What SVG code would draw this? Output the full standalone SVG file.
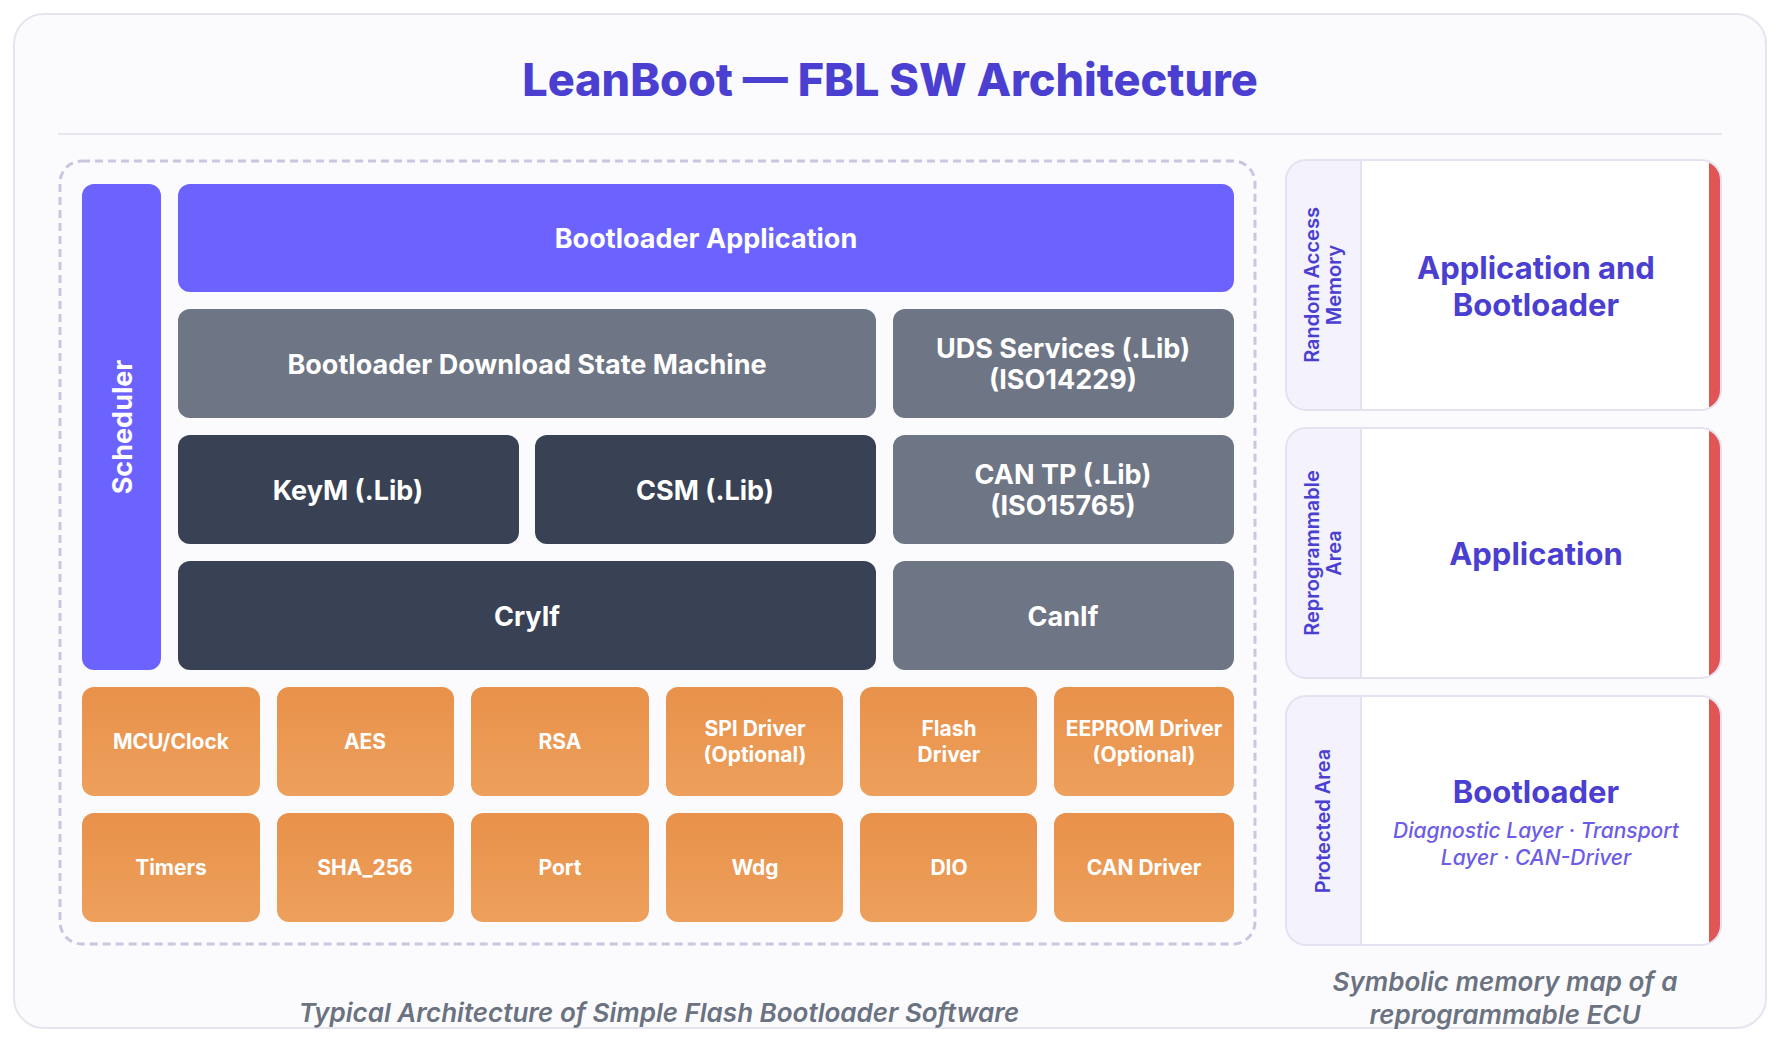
<svg xmlns="http://www.w3.org/2000/svg" width="1780" height="1042" viewBox="0 0 1780 1042">
<defs>
<linearGradient id="og" x1="0" y1="0" x2="0" y2="1"><stop offset="0" stop-color="#e8914a"/><stop offset="1" stop-color="#eda05c"/></linearGradient>
<style>
text{font-family:Inter,"Open Sans","Liberation Sans",sans-serif;text-anchor:middle;dominant-baseline:central}
.w{fill:#fff;font-weight:700;font-size:27px}
.o{fill:#fff;font-weight:700;font-size:21px}
.p{fill:#6c63ff}.s{fill:#6e7585}.d{fill:#394254}.or{fill:url(#og)}
.strip{fill:#f3f2fd}
.lab{fill:#4a3fd0;font-weight:600;font-size:20px}
.big{fill:#4a3fd0;font-weight:700;font-size:31px}
.cap{fill:#6b7280;font-style:italic;font-weight:600;font-size:26px}
</style>
<clipPath id="c1"><rect x="1286" y="160" width="435" height="250" rx="20"/></clipPath>
<clipPath id="c2"><rect x="1286" y="428" width="435" height="250" rx="20"/></clipPath>
<clipPath id="c3"><rect x="1286" y="696" width="435" height="249" rx="20"/></clipPath>
</defs>
<rect x="14" y="14" width="1752" height="1014" rx="30" fill="#fbfbfe" stroke="#e6e5ef" stroke-width="2"/>
<text x="890" y="79" style="font-size:45px;font-weight:800;fill:#4a3fd0">LeanBoot — FBL SW Architecture</text>
<line x1="58" y1="134" x2="1722" y2="134" stroke="#e6e5ef" stroke-width="2"/>
<rect x="60" y="161" width="1195" height="783" rx="22" fill="none" stroke="#c9c7e0" stroke-width="3" stroke-dasharray="8 5"/>
<g id="scheduler"><rect class="p" x="82" y="184" width="79" height="486" rx="12"/><text class="w" transform="translate(122 427) rotate(-90)">Scheduler</text></g>
<g id="app"><rect class="p" x="178" y="184" width="1056" height="108" rx="12"/><text class="w" x="706" y="238">Bootloader Application</text></g>
<g id="bdsm"><rect class="s" x="178" y="309" width="698" height="109" rx="12"/><text class="w" x="527" y="364">Bootloader Download State Machine</text></g>
<g id="uds"><rect class="s" x="893" y="309" width="341" height="109" rx="12"/><text class="w" x="1063" y="348">UDS Services (.Lib)</text><text class="w" x="1063" y="379">(ISO14229)</text></g>
<g id="keym"><rect class="d" x="178" y="435" width="341" height="109" rx="12"/><text class="w" x="348" y="490">KeyM (.Lib)</text></g>
<g id="csm"><rect class="d" x="535" y="435" width="341" height="109" rx="12"/><text class="w" x="705" y="490">CSM (.Lib)</text></g>
<g id="cantp"><rect class="s" x="893" y="435" width="341" height="109" rx="12"/><text class="w" x="1063" y="474">CAN TP (.Lib)</text><text class="w" x="1063" y="505">(ISO15765)</text></g>
<g id="cryif"><rect class="d" x="178" y="561" width="698" height="109" rx="12"/><text class="w" x="527" y="616">CryIf</text></g>
<g id="canif"><rect class="s" x="893" y="561" width="341" height="109" rx="12"/><text class="w" x="1063" y="616">CanIf</text></g>
<g id="mcu"><rect class="or" x="82" y="687" width="178" height="109" rx="12"/><text class="o" x="171" y="741">MCU/Clock</text></g>
<g id="aes"><rect class="or" x="277" y="687" width="177" height="109" rx="12"/><text class="o" x="365" y="741">AES</text></g>
<g id="rsa"><rect class="or" x="471" y="687" width="178" height="109" rx="12"/><text class="o" x="560" y="741">RSA</text></g>
<g id="spi"><rect class="or" x="666" y="687" width="177" height="109" rx="12"/><text class="o" x="755" y="728">SPI Driver</text><text class="o" x="755" y="754">(Optional)</text></g>
<g id="flash"><rect class="or" x="860" y="687" width="177" height="109" rx="12"/><text class="o" x="949" y="728">Flash</text><text class="o" x="949" y="754">Driver</text></g>
<g id="eeprom"><rect class="or" x="1054" y="687" width="180" height="109" rx="12"/><text class="o" x="1144" y="728">EEPROM Driver</text><text class="o" x="1144" y="754">(Optional)</text></g>
<g id="timers"><rect class="or" x="82" y="813" width="178" height="109" rx="12"/><text class="o" x="171" y="867">Timers</text></g>
<g id="sha"><rect class="or" x="277" y="813" width="177" height="109" rx="12"/><text class="o" x="365" y="867">SHA_256</text></g>
<g id="port"><rect class="or" x="471" y="813" width="178" height="109" rx="12"/><text class="o" x="560" y="867">Port</text></g>
<g id="wdg"><rect class="or" x="666" y="813" width="177" height="109" rx="12"/><text class="o" x="755" y="867">Wdg</text></g>
<g id="dio"><rect class="or" x="860" y="813" width="177" height="109" rx="12"/><text class="o" x="949" y="867">DIO</text></g>
<g id="candrv"><rect class="or" x="1054" y="813" width="180" height="109" rx="12"/><text class="o" x="1144" y="867">CAN Driver</text></g>
<text class="cap" x="659" y="1012">Typical Architecture of Simple Flash Bootloader Software</text>
<g id="ram">
<g clip-path="url(#c1)"><rect x="1286" y="160" width="435" height="250" fill="#fff"/><rect class="strip" x="1286" y="160" width="75" height="250"/><rect x="1709" y="160" width="12" height="250" fill="#e05656"/></g>
<line x1="1361" y1="160" x2="1361" y2="410" stroke="#e4e2f0" stroke-width="2"/>
<rect x="1286" y="160" width="435" height="250" rx="20" fill="none" stroke="#e4e2f0" stroke-width="2"/>
<text class="lab" transform="translate(1323 285) rotate(-90)"><tspan x="0" dy="-11">Random Access</tspan><tspan x="0" dy="22">Memory</tspan></text>
<text class="big" x="1536" y="267">Application and</text><text class="big" x="1536" y="304">Bootloader</text>
</g>
<g id="repro">
<g clip-path="url(#c2)"><rect x="1286" y="428" width="435" height="250" fill="#fff"/><rect class="strip" x="1286" y="428" width="75" height="250"/><rect x="1709" y="428" width="12" height="250" fill="#e05656"/></g>
<line x1="1361" y1="428" x2="1361" y2="678" stroke="#e4e2f0" stroke-width="2"/>
<rect x="1286" y="428" width="435" height="250" rx="20" fill="none" stroke="#e4e2f0" stroke-width="2"/>
<text class="lab" transform="translate(1323 553) rotate(-90)"><tspan x="0" dy="-11">Reprogrammable</tspan><tspan x="0" dy="22">Area</tspan></text>
<text class="big" x="1536" y="553">Application</text>
</g>
<g id="prot">
<g clip-path="url(#c3)"><rect x="1286" y="696" width="435" height="249" fill="#fff"/><rect class="strip" x="1286" y="696" width="75" height="249"/><rect x="1709" y="696" width="12" height="249" fill="#e05656"/></g>
<line x1="1361" y1="696" x2="1361" y2="945" stroke="#e4e2f0" stroke-width="2"/>
<rect x="1286" y="696" width="435" height="249" rx="20" fill="none" stroke="#e4e2f0" stroke-width="2"/>
<text class="lab" transform="translate(1323 821) rotate(-90)">Protected Area</text>
<text class="big" x="1536" y="791">Bootloader</text>
<text x="1536" y="830" style="fill:#6c5ce7;font-style:italic;font-weight:500;font-size:21px">Diagnostic Layer · Transport</text>
<text x="1536" y="857" style="fill:#6c5ce7;font-style:italic;font-weight:500;font-size:21px">Layer · CAN-Driver</text>
</g>
<text class="cap" x="1505" y="981">Symbolic memory map of a</text>
<text class="cap" x="1505" y="1014">reprogrammable ECU</text>
</svg>
